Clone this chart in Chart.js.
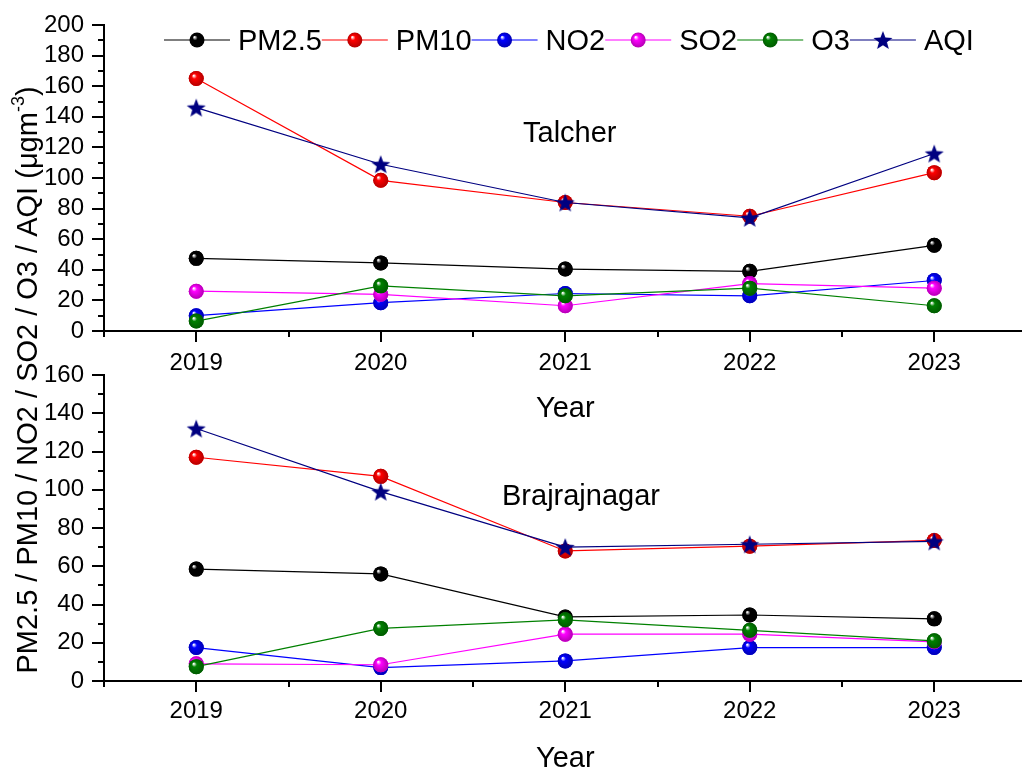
<!DOCTYPE html>
<html>
<head>
<meta charset="utf-8">
<script src="https://cdn.jsdelivr.net/npm/chart.js@4.4.0/dist/chart.umd.min.js"></script>
<style>
body{margin:0;background:#fff;overflow:hidden;}
#wrap{position:relative;width:1022px;height:767px;overflow:hidden;background:#fff;}
#wrap canvas{position:absolute;left:0;top:0;}
</style>
</head>
<body>
<div id="wrap">
<canvas id="talcherChart" width="1034" height="767"></canvas>
<canvas id="brajChart" width="1034" height="767"></canvas>
</div>
<script>
// categories
const years = [2019, 2020, 2021, 2022, 2023];
const seriesNames = ["PM2.5", "PM10", "NO2", "SO2", "O3", "AQI"];
const seriesColors = ["#000000", "#ff0000", "#0000ff", "#ff00ff", "#008000", "#000080"];

// Talcher (top panel)
const talcherPM25 = [47.5, 44.5, 40.5, 39, 56];
const talcherPM10 = [165, 98.5, 84, 75, 103.5];
const talcherNO2  = [10, 18.5, 24.5, 23, 33];
const talcherSO2  = [26, 24, 16.5, 31, 28];
const talcherO3   = [6.5, 29.5, 23, 28, 16.5];
const talcherAQI  = [146, 109, 84, 74, 116];

// Brajrajnagar (bottom panel)
const brajPM25 = [58.5, 56, 33.5, 34.5, 32.5];
const brajPM10 = [117, 107, 68, 70.5, 73.5];
const brajNO2  = [17.5, 7, 10.5, 17.5, 17.5];
const brajSO2  = [9, 8.5, 24.5, 24.5, 20.5];
const brajO3   = [7.5, 27.5, 32, 26.5, 21];
const brajAQI  = [132, 99, 70, 71.5, 73];

// tick labels
const topYTicks = [0, 20, 40, 60, 80, 100, 120, 140, 160, 180, 200];
const bottomYTicks = [0, 20, 40, 60, 80, 100, 120, 140, 160];

const FONT = '"Liberation Sans", Arial, sans-serif';

function makeStar(color, r){
    const c = document.createElement('canvas');
    c.width = c.height = Math.ceil(r * 2 + 2);
    const g = c.getContext('2d');
    const cx = c.width / 2, cy = c.height / 2 + r * 0.1;
    g.beginPath();
    for (let i = 0; i < 10; i++){
        const rad = i % 2 ? r * 0.42 : r;
        const a = -Math.PI / 2 + i * Math.PI / 5;
        g.lineTo(cx + rad * Math.cos(a), cy + rad * Math.sin(a));
    }
    g.closePath();
    g.fillStyle = color;
    g.fill();
    return c;
}
const starImg = makeStar("#000080", 10);

function darken(hex, f){
    const n = parseInt(hex.slice(1), 16);
    const r = Math.round(((n >> 16) & 255) * f), gg = Math.round(((n >> 8) & 255) * f), b = Math.round((n & 255) * f);
    return 'rgb(' + r + ',' + gg + ',' + b + ')';
}

function drawSphere(ctx, x, y, r, color){
    const g = ctx.createRadialGradient(x - r * 0.35, y - r * 0.4, r * 0.05, x, y, r);
    g.addColorStop(0, '#ffffff');
    g.addColorStop(0.3, color);
    g.addColorStop(1, darken(color, 0.7));
    ctx.beginPath();
    ctx.arc(x, y, r, 0, Math.PI * 2);
    ctx.fillStyle = g;
    ctx.fill();
}

function buildDatasets(values){
    let datasets = [];
    values.forEach((vals, i) => {
        let ds = {};
        ds.label = seriesNames[i];
        ds.data = years.map((yr, k) => ({x: yr, y: vals[k]}));
        ds.borderColor = seriesColors[i];
        ds.backgroundColor = seriesColors[i];
        ds.borderWidth = 1.2;
        ds.pointRadius = 7.5;
        ds.pointBorderWidth = 0;
        ds.pointStyle = seriesNames[i] == "AQI" ? starImg : 'circle';
        ds.order = values.length - i;
        datasets.push(ds);
    });
    return datasets;
}

// sphere shading, minor ticks, legend and texts
const deco = {
    id: 'deco',
    afterDatasetDraw(chart, args){
        const ds = chart.data.datasets[args.index];
        if (ds.label == "AQI") return;
        const ctx = chart.ctx;
        ctx.save();
        args.meta.data.forEach(pt => drawSphere(ctx, pt.x, pt.y, 7.5, ds.borderColor));
        ctx.restore();
    },
    afterDraw(chart, args, opts){
        const {ctx, chartArea, scales} = chart;
        ctx.save();
        // minor ticks
        ctx.strokeStyle = '#000';
        ctx.lineWidth = 2;
        ctx.beginPath();
        for (let v = 2018.5; v <= 2023.5; v += 1){
            const px = Math.round(scales.x.getPixelForValue(v));
            ctx.moveTo(px, chartArea.bottom);
            ctx.lineTo(px, chartArea.bottom + 6);
        }
        for (let v = 10; v < scales.y.max; v += 20){
            const py = Math.round(scales.y.getPixelForValue(v));
            ctx.moveTo(chartArea.left, py);
            ctx.lineTo(chartArea.left - 6, py);
        }
        ctx.stroke();

        ctx.fillStyle = '#000';
        ctx.textBaseline = 'alphabetic';
        ctx.font = '29px ' + FONT;
        // x title
        ctx.textAlign = 'center';
        ctx.fillText('Year', (chartArea.left + chartArea.right) / 2, chartArea.bottom + 86);
        // site name
        ctx.textAlign = 'left';
        ctx.fillText(opts.site, opts.siteX, opts.siteY);

        if (opts.legend){
            let x = 164;
            const ly = 40;
            chart.data.datasets.forEach(ds => {
                ctx.strokeStyle = ds.borderColor;
                ctx.lineWidth = 1.2;
                ctx.beginPath();
                ctx.moveTo(x, ly);
                ctx.lineTo(x + 66, ly);
                ctx.stroke();
                if (ds.label == "AQI") ctx.drawImage(starImg, x + 33 - starImg.width / 2, ly - starImg.height / 2);
                else drawSphere(ctx, x + 33, ly, 7.5, ds.borderColor);
                ctx.fillStyle = '#000';
                ctx.fillText(ds.label, x + 74, ly + 10);
                x += 74 + ctx.measureText(ds.label).width;
            });
        }

        if (opts.yTitle){
            ctx.translate(37, 380);
            ctx.rotate(-Math.PI / 2);
            const main = 'PM2.5 / PM10 / NO2 / SO2 / O3 / AQI (\u03bcgm';
            ctx.font = '29px ' + FONT;
            const w1 = ctx.measureText(main).width;
            const w3 = ctx.measureText(')').width;
            ctx.font = '18px ' + FONT;
            const w2 = ctx.measureText('-3').width;
            let x0 = -(w1 + w2 + w3) / 2;
            ctx.font = '29px ' + FONT;
            ctx.fillText(main, x0, 0);
            ctx.font = '18px ' + FONT;
            ctx.fillText('-3', x0 + w1, -13);
            ctx.font = '29px ' + FONT;
            ctx.fillText(')', x0 + w1 + w2, 0);
        }
        ctx.restore();
    }
};

function makeConfig(values, yMax, yTicks, pad, xHeight, tickPad, decoOpts){
    return {
        type: 'line',
        data: {datasets: buildDatasets(values)},
        options: {
            responsive: false,
            animation: false,
            events: [],
            layout: {padding: pad},
            plugins: {legend: {display: false}, tooltip: {enabled: false}, deco: decoOpts},
            scales: {
                x: {
                    type: 'linear',
                    position: 'bottom',
                    min: 2018.5,
                    max: 2023.5,
                    afterBuildTicks: s => { s.ticks = years.map(v => ({value: v})); },
                    afterFit: s => { s.height = xHeight; },
                    grid: {display: true, drawOnChartArea: false, drawTicks: true, tickLength: 11, color: '#000', lineWidth: 2},
                    border: {display: true, color: '#000', width: 2},
                    ticks: {color: '#000', font: {family: FONT, size: 24}, padding: tickPad, maxRotation: 0, autoSkip: false, callback: v => String(v)}
                },
                y: {
                    min: 0,
                    max: yMax,
                    afterBuildTicks: s => { s.ticks = yTicks.map(v => ({value: v})); },
                    afterFit: s => { s.width = 104; },
                    grid: {display: true, drawOnChartArea: false, drawTicks: true, tickLength: 12, color: '#000', lineWidth: 2},
                    border: {display: true, color: '#000', width: 2},
                    ticks: {color: '#000', font: {family: FONT, size: 24}, padding: 8, autoSkip: false, callback: v => String(v)}
                }
            }
        },
        plugins: [deco]
    };
}

new Chart(document.getElementById('talcherChart').getContext('2d'),
    makeConfig([talcherPM25, talcherPM10, talcherNO2, talcherSO2, talcherO3, talcherAQI],
        200, topYTicks, {top: 25, right: 5, bottom: 342, left: 0}, 94, 7,
        {site: 'Talcher', siteX: 523, siteY: 142, legend: true, yTitle: false}));

new Chart(document.getElementById('brajChart').getContext('2d'),
    makeConfig([brajPM25, brajPM10, brajNO2, brajSO2, brajO3, brajAQI],
        160, bottomYTicks, {top: 375, right: 5, bottom: 0, left: 0}, 86, 5,
        {site: 'Brajrajnagar', siteX: 502, siteY: 505, legend: false, yTitle: true}));
</script>
</body>
</html>
